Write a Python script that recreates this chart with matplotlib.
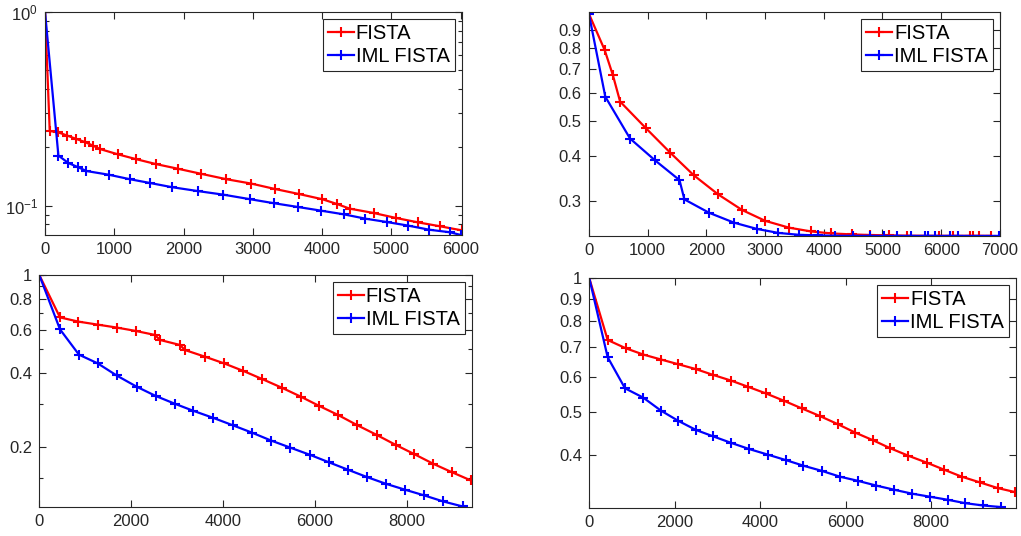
import matplotlib
matplotlib.use("Agg")
import matplotlib.pyplot as plt
from matplotlib.ticker import FixedLocator, FixedFormatter, NullFormatter, LogLocator

plt.rcParams["font.family"] = ["Liberation Sans", "DejaVu Sans"]
plt.rcParams["mathtext.default"] = "regular"

# panel 1 (top left)
p1_fista_x = [0, 68, 193, 323, 453, 579, 695, 796, 1056, 1312, 1602, 1925, 2257, 2619, 2980,
              3318, 3661, 4003, 4216, 4396, 4744, 5062, 5386, 5702, 6015]
p1_fista_y = [1.0, 0.243, 0.239, 0.230, 0.221, 0.213, 0.204, 0.196, 0.184, 0.174, 0.164, 0.155,
              0.146, 0.137, 0.130, 0.122, 0.115, 0.108, 0.102, 0.0966, 0.0917, 0.0865, 0.082,
              0.0783, 0.0746]
p1_iml_x = [0, 193, 338, 478, 598, 926, 1225, 1515, 1828, 2205, 2576, 2962, 3304, 3657, 3990,
            4317, 4626, 4930, 5244, 5543, 5847, 6001]
p1_iml_y = [1.0, 0.1815, 0.166, 0.158, 0.151, 0.1444, 0.137, 0.131, 0.1247, 0.119, 0.114, 0.108,
            0.103, 0.0984, 0.0942, 0.0902, 0.0857, 0.0824, 0.0789, 0.0752, 0.0729, 0.0706]

# panel 2 (top right)
p2_fista_x = [0, 270, 410, 533, 971, 1387, 1786, 2201, 2611, 3004, 3408, 3779, 4127, 4475, 4789,
              5109, 5418, 5968, 6204, 6485, 6541, 6642, 6850]
p2_fista_y = [1.0, 0.791, 0.673, 0.568, 0.479, 0.409, 0.354, 0.313, 0.283, 0.264, 0.2527, 0.2467,
              0.2435, 0.2420, 0.2410, 0.2405, 0.2400, 0.2398, 0.2398, 0.2398, 0.2398, 0.2398, 0.2398]
p2_iml_x = [0, 281, 702, 1123, 1544, 1628, 2049, 2471, 2864, 3228, 3582, 3902, 4194, 4492, 4784,
            5025, 5250, 5486, 5727, 5783, 5896, 6148, 6289, 6990]
p2_iml_y = [1.0, 0.586, 0.448, 0.390, 0.343, 0.303, 0.278, 0.261, 0.2506, 0.2443, 0.2413, 0.2405,
            0.2398, 0.2397, 0.2397, 0.2396, 0.2396, 0.2396, 0.2396, 0.2396, 0.2396, 0.2396, 0.2396,
            0.2396]

# panel 3 (bottom left)
p3_fista_x = [0, 450, 850, 1271, 1685, 2099, 2520, 2629, 3065, 3174, 3609, 4023, 4444, 4858, 5279,
              5693, 6100, 6514, 6928, 7349, 7763, 8170, 8584, 8998, 9405]
p3_fista_y = [1.0, 0.673, 0.647, 0.629, 0.612, 0.593, 0.571, 0.545, 0.520, 0.496, 0.466, 0.438,
              0.408, 0.378, 0.349, 0.321, 0.294, 0.270, 0.2456, 0.2244, 0.2044, 0.1874, 0.1712,
              0.158, 0.1465]
p3_iml_x = [0, 450, 864, 1271, 1685, 2121, 2534, 2956, 3355, 3791, 4212, 4626, 5047, 5461, 5897,
            6318, 6732, 7146, 7553, 7974, 8388, 8802, 9223]
p3_iml_y = [1.0, 0.602, 0.475, 0.438, 0.391, 0.352, 0.323, 0.300, 0.281, 0.263, 0.2456, 0.2294,
            0.2129, 0.1994, 0.1862, 0.1734, 0.1618, 0.1511, 0.142, 0.1343, 0.1274, 0.1204, 0.1149]

# panel 4 (bottom right)
p4_fista_x = [0, 429, 859, 1265, 1678, 2084, 2498, 2888, 3318, 3724, 4137, 4567, 4973, 5402, 5816,
              6222, 6651, 7041, 7471, 7900, 8314, 8720, 9149, 9563, 9969]
p4_fista_y = [1.0, 0.726, 0.695, 0.673, 0.656, 0.640, 0.624, 0.606, 0.588, 0.569, 0.550, 0.529,
              0.509, 0.489, 0.469, 0.449, 0.431, 0.414, 0.398, 0.384, 0.370, 0.357, 0.3465,
              0.3365, 0.3296]
p4_iml_x = [0, 429, 835, 1265, 1678, 2084, 2498, 2904, 3318, 3747, 4192, 4606, 5012, 5441, 5870,
            6284, 6714, 7135, 7549, 7978, 8392, 8798, 9212, 9641]
p4_iml_y = [1.0, 0.664, 0.565, 0.538, 0.503, 0.477, 0.455, 0.440, 0.4256, 0.412, 0.400, 0.389,
            0.378, 0.368, 0.357, 0.3495, 0.341, 0.3337, 0.327, 0.3217, 0.3167, 0.3112, 0.3075,
            0.3049]

panels = [
    dict(rect=[0.0441, 0.5616, 0.4081, 0.4160], fx=p1_fista_x, fy=p1_fista_y, ix=p1_iml_x, iy=p1_iml_y,
         xlim=(0, 6015), ylim=(0.0706, 1.0), xticks=[0, 1000, 2000, 3000, 4000, 5000, 6000], yticks=None),
    dict(rect=[0.5767, 0.5597, 0.4026, 0.4179], fx=p2_fista_x, fy=p2_fista_y, ix=p2_iml_x, iy=p2_iml_y,
         xlim=(0, 7000), ylim=(0.2395, 1.01), xticks=[0, 1000, 2000, 3000, 4000, 5000, 6000, 7000],
         yticks=[0.3, 0.4, 0.5, 0.6, 0.7, 0.8, 0.9]),
    dict(rect=[0.0385, 0.0535, 0.4235, 0.4334], fx=p3_fista_x, fy=p3_fista_y, ix=p3_iml_x, iy=p3_iml_y,
         xlim=(0, 9420), ylim=(0.114, 1.0), xticks=[0, 2000, 4000, 6000, 8000],
         yticks=[0.2, 0.4, 0.6, 0.8, 1.0]),
    dict(rect=[0.5772, 0.0517, 0.4179, 0.4291], fx=p4_fista_x, fy=p4_fista_y, ix=p4_iml_x, iy=p4_iml_y,
         xlim=(0, 9990), ylim=(0.303, 1.0), xticks=[0, 2000, 4000, 6000, 8000],
         yticks=[0.4, 0.5, 0.6, 0.7, 0.8, 0.9, 1.0]),
]

fig = plt.figure(figsize=(10.21, 5.36), dpi=100)
for p in panels:
    ax = fig.add_axes(p["rect"])
    ax.plot(p["fx"], p["fy"], color="red", lw=1.6, marker="+", ms=7, mew=1.5, label="FISTA")
    ax.plot(p["ix"], p["iy"], color="blue", lw=1.6, marker="+", ms=7, mew=1.5, label="IML FISTA")
    ax.set_yscale("log")
    ax.set_xlim(*p["xlim"])
    ax.set_ylim(*p["ylim"])
    ax.set_xticks(p["xticks"])
    if p["yticks"] is not None:
        labels = ["1" if v == 1.0 else f"{v:g}" for v in p["yticks"]]
        ax.yaxis.set_major_locator(FixedLocator(p["yticks"]))
        ax.yaxis.set_major_formatter(FixedFormatter(labels))
        if p["yticks"][0] == 0.2:
            ax.yaxis.set_minor_locator(FixedLocator([0.15, 0.3, 0.5, 0.7, 0.9]))
        else:
            ax.yaxis.set_minor_locator(FixedLocator([]))
        ax.yaxis.set_minor_formatter(NullFormatter())
    else:
        ax.yaxis.set_minor_locator(LogLocator(subs=range(2, 10)))
        ax.yaxis.set_minor_formatter(NullFormatter())
    for s in ax.spines.values():
        s.set_color("0.15")
        s.set_linewidth(0.8)
    ax.tick_params(which="both", direction="in", top=True, right=True, colors="0.15",
                   labelsize=12, labelcolor="0.15", width=0.8)
    ax.tick_params(which="major", length=5, pad=5)
    ax.tick_params(which="minor", length=3)
    leg = ax.legend(loc="upper right", fontsize=14.5, borderaxespad=0.35, borderpad=0.25,
                    labelspacing=0.2, handlelength=1.3, handletextpad=0.1, fancybox=False,
                    framealpha=1, edgecolor="0.15")
    leg.get_frame().set_linewidth(0.8)

fig.savefig("out.png", dpi=100)
